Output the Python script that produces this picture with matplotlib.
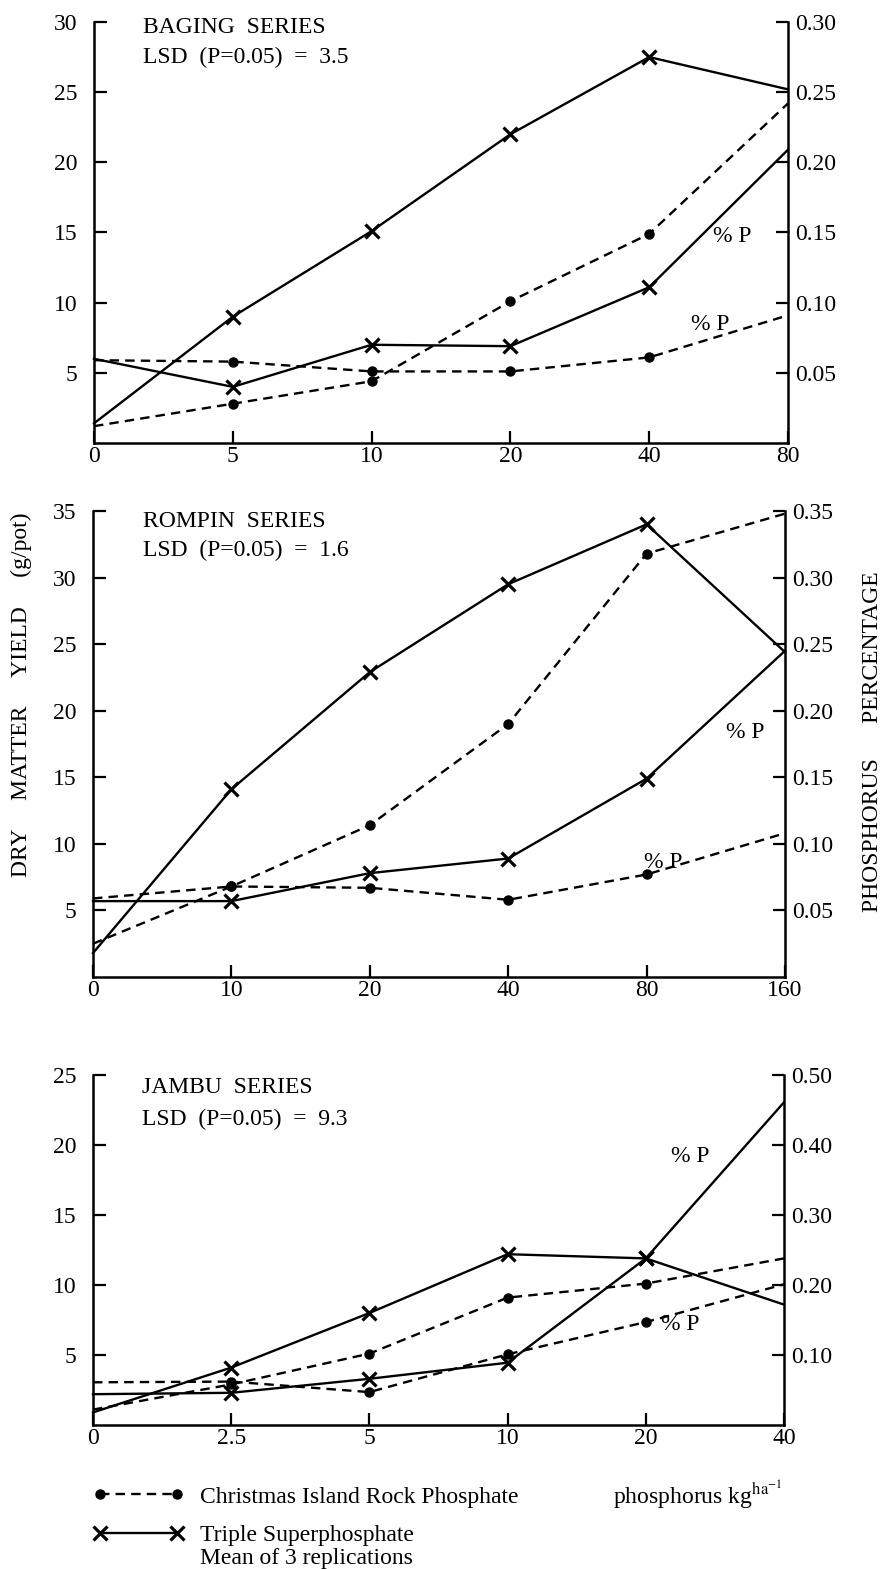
import numpy as np
import matplotlib
matplotlib.use("Agg")
import matplotlib.pyplot as plt
from matplotlib.lines import Line2D
from matplotlib.ticker import FormatStrFormatter

# ============== data =============

# Baging series
BAGING_X = ["0", "5", "10", "20", "40", "80"]
BAGING_TSP_YIELD = [1.4, 9.0, 15.1, 22.0, 27.5, 25.2]
BAGING_CIRP_YIELD = [1.2, 2.8, 4.4, 10.1, 14.9, 24.2]
BAGING_TSP_P = [0.060, 0.040, 0.070, 0.069, 0.111, 0.209]
BAGING_CIRP_P = [0.059, 0.058, 0.051, 0.051, 0.061, 0.091]

# Rompin series
ROMPIN_X = ["0", "10", "20", "40", "80", "160"]
ROMPIN_TSP_YIELD = [1.8, 14.1, 22.9, 29.5, 34.0, 24.4]
ROMPIN_CIRP_YIELD = [2.5, 6.8, 11.4, 19.0, 31.8, 34.8]
ROMPIN_TSP_P = [0.057, 0.057, 0.078, 0.089, 0.149, 0.245]
ROMPIN_CIRP_P = [0.059, 0.068, 0.067, 0.058, 0.077, 0.108]

# Jambu series
JAMBU_X = ["0", "2.5", "5", "10", "20", "40"]
JAMBU_TSP_YIELD = [0.9, 4.1, 8.0, 12.2, 11.9, 8.6]
JAMBU_CIRP_YIELD = [1.1, 2.9, 5.1, 9.1, 10.1, 11.9]
JAMBU_TSP_P = [0.044, 0.046, 0.066, 0.089, 0.238, 0.461]
JAMBU_CIRP_P = [0.061, 0.062, 0.047, 0.101, 0.147, 0.201]

# ============== style =============

W, H = 887, 1569
FONT = "Liberation Serif"
FS = 17
LW = 1.7
DASH = (0, (4, 2.6))
INK = "black"

plt.rcParams["font.family"] = [FONT, "DejaVu Serif"]
plt.rcParams["font.size"] = FS
plt.rcParams["mathtext.fontset"] = "stix"


# pixel -> figure fraction
def fx(x):
    return x / W


def fy(y):
    return 1 - y / H


# one panel: left = dry matter yield, right = % P
def drawPanel(fig, box, xLabels, tspYield, cirpYield, tspP, cirpP,
              yTop, yTicks, pTop, pTicks, title, lsd, titleXY, pLabels):
    x0, top, x1, bottom = box
    ax = fig.add_axes([fx(x0), fy(bottom), (x1 - x0) / W, (bottom - top) / H])
    ax2 = ax.twinx()

    xs = np.arange(len(xLabels))
    inner = list(range(1, len(xs) - 1))

    # yields
    ax.plot(xs, tspYield, color=INK, lw=LW, marker="x", ms=10.5, mew=2.3,
            markevery=inner, clip_on=False)
    ax.plot(xs, cirpYield, color=INK, lw=LW, ls=DASH, marker="o", ms=6.5,
            markevery=inner, clip_on=False)
    # % P
    ax2.plot(xs, tspP, color=INK, lw=LW, marker="x", ms=10.5, mew=2.3,
             markevery=inner, clip_on=False)
    ax2.plot(xs, cirpP, color=INK, lw=LW, ls=DASH, marker="o", ms=6.5,
             markevery=inner, clip_on=False)

    ax.set_xlim(0, len(xs) - 1)
    ax.set_ylim(0, yTop)
    ax2.set_ylim(0, pTop)
    ax.set_xticks(xs)
    ax.set_xticklabels(xLabels)
    ax.set_yticks(yTicks)
    ax2.set_yticks(pTicks)
    ax2.yaxis.set_major_formatter(FormatStrFormatter("%.2f"))

    for s in ["top", "right"]:
        ax.spines[s].set_visible(False)
    for s in ["top", "left", "bottom"]:
        ax2.spines[s].set_visible(False)
    ax.spines["left"].set_linewidth(1.8)
    ax.spines["bottom"].set_linewidth(1.8)
    ax2.spines["right"].set_linewidth(1.8)

    ax.tick_params(axis="y", direction="in", length=9, width=1.6, pad=12, labelsize=FS)
    ax.tick_params(axis="x", direction="in", length=9, width=1.6, pad=2, labelsize=FS)
    ax2.tick_params(axis="y", direction="in", length=9, width=1.6, pad=5, labelsize=FS)

    # series name and LSD
    tx, ty1, ty2 = titleXY
    fig.text(fx(tx), fy(ty1), title, ha="left", va="baseline", fontsize=FS)
    fig.text(fx(tx), fy(ty2), lsd, ha="left", va="baseline", fontsize=FS)

    # "% P" tags
    for (px, py) in pLabels:
        fig.text(fx(px), fy(py), "% P", ha="center", va="center", fontsize=FS)

    return ax, ax2


def main():
    fig = plt.figure(figsize=(W / 100, H / 100), dpi=100)

    drawPanel(fig, (94, 22, 788, 443), BAGING_X,
              BAGING_TSP_YIELD, BAGING_CIRP_YIELD, BAGING_TSP_P, BAGING_CIRP_P,
              30, [5, 10, 15, 20, 25, 30], 0.30, [0.05, 0.10, 0.15, 0.20, 0.25, 0.30],
              "BAGING  SERIES", "LSD  (P=0.05)  =  3.5", (143, 33, 63),
              [(732, 237), (710, 325)])

    drawPanel(fig, (93, 511, 785, 977), ROMPIN_X,
              ROMPIN_TSP_YIELD, ROMPIN_CIRP_YIELD, ROMPIN_TSP_P, ROMPIN_CIRP_P,
              35, [5, 10, 15, 20, 25, 30, 35], 0.35,
              [0.05, 0.10, 0.15, 0.20, 0.25, 0.30, 0.35],
              "ROMPIN  SERIES", "LSD  (P=0.05)  =  1.6", (143, 527, 556),
              [(745, 732), (663, 862)])

    drawPanel(fig, (93, 1075, 784, 1425), JAMBU_X,
              JAMBU_TSP_YIELD, JAMBU_CIRP_YIELD, JAMBU_TSP_P, JAMBU_CIRP_P,
              25, [5, 10, 15, 20, 25], 0.50, [0.10, 0.20, 0.30, 0.40, 0.50],
              "JAMBU  SERIES", "LSD  (P=0.05)  =  9.3", (142, 1093, 1125),
              [(690, 1157), (680, 1325)])

    # axis titles
    fig.text(fx(21), fy(695), "DRY     MATTER     YIELD     (g/pot)",
             rotation=90, ha="center", va="center", fontsize=FS)
    fig.text(fx(873), fy(742), "PHOSPHORUS      PERCENTAGE",
             rotation=90, ha="center", va="center", fontsize=FS)

    # legend
    handles = [Line2D([], [], color=INK, lw=LW, ls=DASH, marker="o", ms=6.5),
               Line2D([], [], color=INK, lw=LW, marker="x", ms=10.5, mew=2.3)]
    fig.legend(handles, ["Christmas Island Rock Phosphate", "Triple Superphosphate"],
               loc="upper left", bbox_to_anchor=(fx(93), fy(1486)), numpoints=2,
               handlelength=3.86, handletextpad=0.68, labelspacing=0.72,
               frameon=False, borderpad=0, borderaxespad=0, fontsize=FS)
    fig.text(fx(200), fy(1564), "Mean of 3 replications", ha="left", va="baseline", fontsize=FS)
    fig.text(fx(613), fy(1504), r"phosphorus kg$^{\mathrm{ha}^{-1}}$",
             ha="left", va="baseline", fontsize=FS)

    fig.savefig("out.png", dpi=100)


if __name__ == "__main__":
    main()
